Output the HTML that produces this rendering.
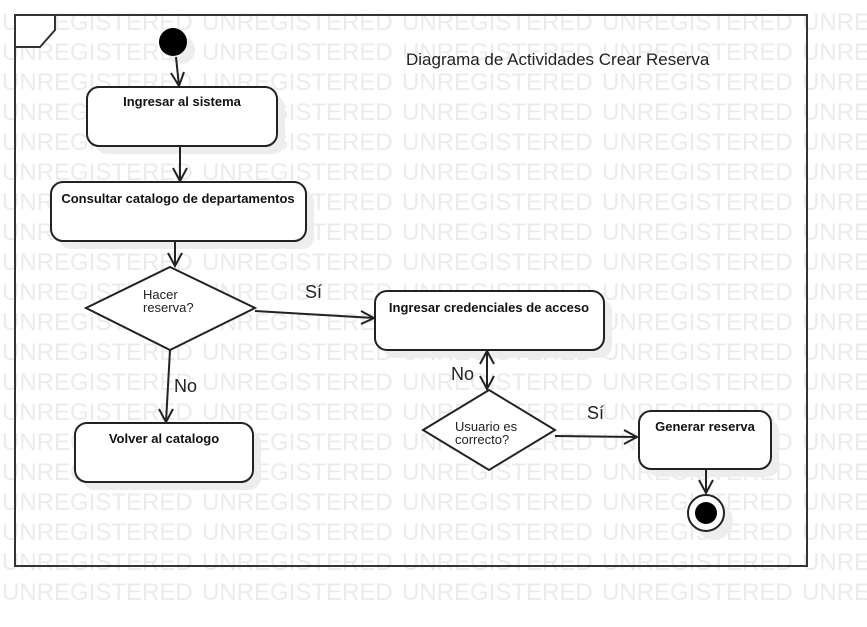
<!DOCTYPE html>
<html><head><meta charset="utf-8"><style>
html,body{margin:0;padding:0;background:#fff;width:867px;height:627px;overflow:hidden}
svg{display:block}
.wm{font-family:"Liberation Sans",Arial,sans-serif;font-size:24px;fill:#ebebeb}
.b{font-family:"Liberation Sans",Arial,sans-serif;font-size:13px;font-weight:bold;fill:#111}
.n{font-family:"Liberation Sans",Arial,sans-serif;font-size:13px;fill:#222}
.l{font-family:"Liberation Sans",Arial,sans-serif;font-size:18px;fill:#222}
</style></head><body>
<svg width="867" height="627" viewBox="0 0 867 627" xmlns="http://www.w3.org/2000/svg">
<g id="wm"></g>
<g class="wm">
<text x="2" y="30">UNREGISTERED</text><text x="202" y="30">UNREGISTERED</text><text x="402" y="30">UNREGISTERED</text><text x="602" y="30">UNREGISTERED</text><text x="802" y="30">UNREGISTERED</text>
<text x="2" y="60">UNREGISTERED</text><text x="202" y="60">UNREGISTERED</text><text x="402" y="60">UNREGISTERED</text><text x="602" y="60">UNREGISTERED</text><text x="802" y="60">UNREGISTERED</text>
<text x="2" y="90">UNREGISTERED</text><text x="202" y="90">UNREGISTERED</text><text x="402" y="90">UNREGISTERED</text><text x="602" y="90">UNREGISTERED</text><text x="802" y="90">UNREGISTERED</text>
<text x="2" y="120">UNREGISTERED</text><text x="202" y="120">UNREGISTERED</text><text x="402" y="120">UNREGISTERED</text><text x="602" y="120">UNREGISTERED</text><text x="802" y="120">UNREGISTERED</text>
<text x="2" y="150">UNREGISTERED</text><text x="202" y="150">UNREGISTERED</text><text x="402" y="150">UNREGISTERED</text><text x="602" y="150">UNREGISTERED</text><text x="802" y="150">UNREGISTERED</text>
<text x="2" y="180">UNREGISTERED</text><text x="202" y="180">UNREGISTERED</text><text x="402" y="180">UNREGISTERED</text><text x="602" y="180">UNREGISTERED</text><text x="802" y="180">UNREGISTERED</text>
<text x="2" y="210">UNREGISTERED</text><text x="202" y="210">UNREGISTERED</text><text x="402" y="210">UNREGISTERED</text><text x="602" y="210">UNREGISTERED</text><text x="802" y="210">UNREGISTERED</text>
<text x="2" y="240">UNREGISTERED</text><text x="202" y="240">UNREGISTERED</text><text x="402" y="240">UNREGISTERED</text><text x="602" y="240">UNREGISTERED</text><text x="802" y="240">UNREGISTERED</text>
<text x="2" y="270">UNREGISTERED</text><text x="202" y="270">UNREGISTERED</text><text x="402" y="270">UNREGISTERED</text><text x="602" y="270">UNREGISTERED</text><text x="802" y="270">UNREGISTERED</text>
<text x="2" y="300">UNREGISTERED</text><text x="202" y="300">UNREGISTERED</text><text x="402" y="300">UNREGISTERED</text><text x="602" y="300">UNREGISTERED</text><text x="802" y="300">UNREGISTERED</text>
<text x="2" y="330">UNREGISTERED</text><text x="202" y="330">UNREGISTERED</text><text x="402" y="330">UNREGISTERED</text><text x="602" y="330">UNREGISTERED</text><text x="802" y="330">UNREGISTERED</text>
<text x="2" y="360">UNREGISTERED</text><text x="202" y="360">UNREGISTERED</text><text x="402" y="360">UNREGISTERED</text><text x="602" y="360">UNREGISTERED</text><text x="802" y="360">UNREGISTERED</text>
<text x="2" y="390">UNREGISTERED</text><text x="202" y="390">UNREGISTERED</text><text x="402" y="390">UNREGISTERED</text><text x="602" y="390">UNREGISTERED</text><text x="802" y="390">UNREGISTERED</text>
<text x="2" y="420">UNREGISTERED</text><text x="202" y="420">UNREGISTERED</text><text x="402" y="420">UNREGISTERED</text><text x="602" y="420">UNREGISTERED</text><text x="802" y="420">UNREGISTERED</text>
<text x="2" y="450">UNREGISTERED</text><text x="202" y="450">UNREGISTERED</text><text x="402" y="450">UNREGISTERED</text><text x="602" y="450">UNREGISTERED</text><text x="802" y="450">UNREGISTERED</text>
<text x="2" y="480">UNREGISTERED</text><text x="202" y="480">UNREGISTERED</text><text x="402" y="480">UNREGISTERED</text><text x="602" y="480">UNREGISTERED</text><text x="802" y="480">UNREGISTERED</text>
<text x="2" y="510">UNREGISTERED</text><text x="202" y="510">UNREGISTERED</text><text x="402" y="510">UNREGISTERED</text><text x="602" y="510">UNREGISTERED</text><text x="802" y="510">UNREGISTERED</text>
<text x="2" y="540">UNREGISTERED</text><text x="202" y="540">UNREGISTERED</text><text x="402" y="540">UNREGISTERED</text><text x="602" y="540">UNREGISTERED</text><text x="802" y="540">UNREGISTERED</text>
<text x="2" y="570">UNREGISTERED</text><text x="202" y="570">UNREGISTERED</text><text x="402" y="570">UNREGISTERED</text><text x="602" y="570">UNREGISTERED</text><text x="802" y="570">UNREGISTERED</text>
<text x="2" y="600">UNREGISTERED</text><text x="202" y="600">UNREGISTERED</text><text x="402" y="600">UNREGISTERED</text><text x="602" y="600">UNREGISTERED</text><text x="802" y="600">UNREGISTERED</text>
</g>
<!-- frame -->
<rect x="15" y="15" width="792" height="551" fill="none" stroke="#333" stroke-width="2"/>
<path d="M15 15 H55 V30 L40 47 H15 Z" fill="#fff" stroke="#333" stroke-width="2"/>
<text class="l" x="406" y="65" style="font-size:17px">Diagrama de Actividades Crear Reserva</text>
<!-- shadows -->
<g fill="#ededed">
<rect x="95" y="95" width="190" height="59" rx="12"/>
<rect x="59" y="190" width="255" height="59" rx="12"/>
<rect x="383" y="299" width="229" height="59" rx="12"/>
<rect x="83" y="431" width="178" height="59" rx="12"/>
<rect x="647" y="419" width="132" height="58" rx="12"/>
<circle cx="181" cy="50" r="14"/>
<circle cx="714" cy="521" r="19"/>
</g>
<g stroke="#222" stroke-width="2" fill="none">
<!-- start -->
<path d="M176 57 L179 86"/><path d="M171 73 L179 86 L184 72"/>
<path d="M180 146 V181"/><path d="M173 168 L180 181 L187 168"/>
<path d="M175 241 V266"/><path d="M168 253 L175 266 L182 253"/>
<path d="M255 311 L374 318"/><path d="M361 311 L374 318 L361 324"/>
<path d="M170 350 L166 422"/><path d="M159 409 L166 422 L173 409"/>
<path d="M487 351 V389"/><path d="M480 364 L487 351 L494 364"/><path d="M480 376 L487 389 L494 376"/>
<path d="M555 436 L637 437"/><path d="M624 430 L637 437 L624 444"/>
<path d="M706 469 V493"/><path d="M699 480 L706 493 L713 480"/>
</g>
<circle cx="173" cy="42" r="14" fill="#000"/>
<g fill="#fff" stroke="#222" stroke-width="2">
<rect x="87" y="87" width="190" height="59" rx="12"/>
<rect x="51" y="182" width="255" height="59" rx="12"/>
<polygon points="170,267 255,308 170,350 86,308"/>
<rect x="375" y="291" width="229" height="59" rx="12"/>
<rect x="75" y="423" width="178" height="59" rx="12"/>
<polygon points="489,390 555,430 489,470 423,430"/>
<rect x="639" y="411" width="132" height="58" rx="12"/>
<circle cx="706" cy="513" r="18"/>
</g>
<circle cx="706" cy="513" r="11" fill="#000"/>
<text class="b" x="182" y="106" text-anchor="middle">Ingresar al sistema</text>
<text class="b" x="178" y="203" text-anchor="middle">Consultar catalogo de departamentos</text>
<text class="n" x="143" y="299">Hacer</text>
<text class="n" x="143" y="312">reserva?</text>
<text class="l" x="305" y="298">Sí</text>
<text class="b" x="489" y="312" text-anchor="middle">Ingresar credenciales de acceso</text>
<text class="l" x="174" y="392">No</text>
<text class="b" x="164" y="443" text-anchor="middle">Volver al catalogo</text>
<text class="l" x="451" y="380">No</text>
<text class="n" x="455" y="431">Usuario es</text>
<text class="n" x="455" y="444">correcto?</text>
<text class="l" x="587" y="419">Sí</text>
<text class="b" x="705" y="431" text-anchor="middle">Generar reserva</text>
</svg>
</body></html>
